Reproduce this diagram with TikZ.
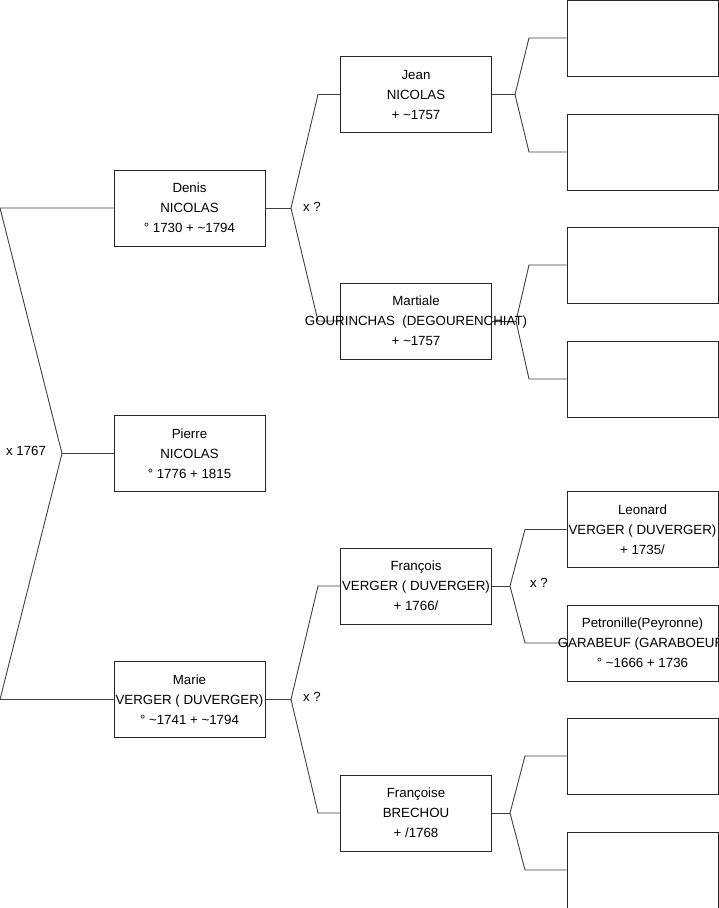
\documentclass[tikz,border=0pt]{standalone}
\usepackage{fontspec}
\setmainfont{Liberation Sans}
\usetikzlibrary{backgrounds}
\newcommand{\ovl}[1]{\makebox[0pt][c]{#1}}
\begin{document}
\begin{tikzpicture}[x=1pt,y=-1pt,
  pbox/.style={draw=black!85,line width=0.9pt,minimum width=151pt,minimum height=76pt,inner sep=0pt,align=center,font=\fontsize{13.3}{20}\selectfont},
  conn/.style={draw=black!75,line width=0.9pt},
  lbl/.style={font=\fontsize{13.3}{16}\selectfont,inner sep=0pt}]
\useasboundingbox (0,0) rectangle (719,908);
\coordinate (r1) at (0,208);
\coordinate (r2) at (0,699.5);
\coordinate (f0) at (62,453.5);
\coordinate (fd) at (291,208);
\coordinate (jb) at (318,94.5);
\coordinate (mb) at (318,321);
\coordinate (fm) at (291,699.5);
\coordinate (fb) at (318,586);
\coordinate (fsb) at (318,813);
\coordinate (fj) at (515,94.5);
\coordinate (b1) at (529,38);
\coordinate (b2) at (529,152);
\coordinate (fma) at (516,321);
\coordinate (b3) at (529,265);
\coordinate (b4) at (529,379);
\coordinate (ff) at (510,586);
\coordinate (b5) at (525,529.5);
\coordinate (b6) at (525,643);
\coordinate (ffs) at (510,813);
\coordinate (b7) at (525,756);
\coordinate (b8) at (525,870);
% boxes
\node[pbox] (denis) at (189.5,208) {Denis\\NICOLAS\\° 1730 + \textasciitilde1794};
\node[pbox] (pierre) at (189.5,453.5) {Pierre\\NICOLAS\\° 1776 + 1815};
\node[pbox] (marie) at (189.5,699.5) {Marie\\\ovl{VERGER ( DUVERGER)}\\° \textasciitilde1741 + \textasciitilde1794};
\node[pbox] (jean) at (416,94.5) {Jean\\NICOLAS\\+ \textasciitilde1757};
\node[pbox] (martiale) at (416,321) {Martiale\\\ovl{GOURINCHAS\ \ (DEGOURENCHIAT)}\\+ \textasciitilde1757};
\node[pbox] (francois) at (416,586) {François\\\ovl{VERGER ( DUVERGER)}\\+ 1766/};
\node[pbox] (francoise) at (416,813) {Françoise\\BRECHOU\\+ /1768};
\node[pbox] (e1) at (642.5,38) {};
\node[pbox] (e2) at (642.5,152) {};
\node[pbox] (e3) at (642.5,265) {};
\node[pbox] (e4) at (642.5,379) {};
\node[pbox] (leonard) at (642.5,529.5) {Leonard\\\ovl{VERGER ( DUVERGER)}\\+ 1735/};
\node[pbox] (petronille) at (642.5,643) {\ovl{Petronille(Peyronne)}\\\ovl{GARABEUF (GARABOEUF)}\\° \textasciitilde1666 + 1736};
\node[pbox] (e7) at (642.5,756) {};
\node[pbox] (e8) at (642.5,870) {};
% connectors
\begin{scope}[on background layer]
\path[conn] (denis.west) -- (r1) -- (f0) -- (r2) -- (marie.west);
\path[conn] (f0) -- (pierre.west);
\path[conn] (denis.east) -- (fd);
\path[conn] (jean.west) -- (jb) -- (fd) -- (mb) -- (martiale.west);
\path[conn] (marie.east) -- (fm);
\path[conn] (francois.west) -- (fb) -- (fm) -- (fsb) -- (francoise.west);
\path[conn] (jean.east) -- (fj);
\path[conn] (e1.west) -- (b1) -- (fj) -- (b2) -- (e2.west);
\path[conn] (martiale.east) -- (fma);
\path[conn] (e3.west) -- (b3) -- (fma) -- (b4) -- (e4.west);
\path[conn] (francois.east) -- (ff);
\path[conn] (leonard.west) -- (b5) -- (ff) -- (b6) -- (petronille.west);
\path[conn] (francoise.east) -- (ffs);
\path[conn] (e7.west) -- (b7) -- (ffs) -- (b8) -- (e8.west);
\end{scope}
% labels
\node[lbl] (m0) at (26,451) {x 1767};
\node[lbl] (m1) at (312,207) {x ?};
\node[lbl] (m2) at (312,697) {x ?};
\node[lbl] (m3) at (539,583) {x ?};
\end{tikzpicture}
\end{document}
